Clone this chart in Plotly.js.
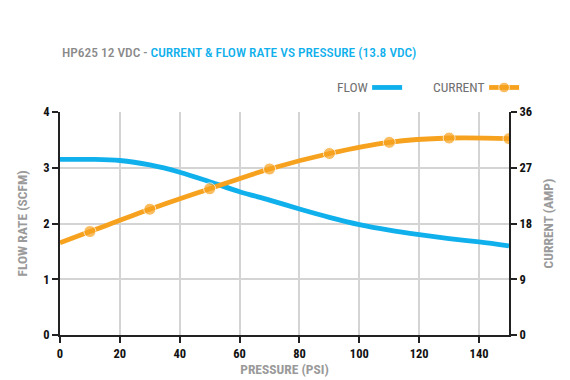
<!DOCTYPE html>
<html><head><meta charset="utf-8">
<script src="https://cdn.plot.ly/plotly-3.0.1.min.js"></script>
<style>html,body{margin:0;padding:0;background:#fff}#chart{width:570px;height:380px}</style>
</head><body><div id="chart"></div>
<script>
const flowPressure = [0,10,20,30,40,50,60,70,80,90,100,110,120,130,140,150];
const flowRate = [3.15,3.15,3.13,3.05,2.92,2.75,2.57,2.42,2.26,2.11,1.98,1.88,1.80,1.73,1.67,1.60];
const currentPressure = [0,10,30,50,70,90,110,130,150];
const currentAmp = [14.9,16.7,20.3,23.6,26.8,29.3,31.1,31.8,31.7];
const xTicks = [0,20,40,60,80,100,120,140];
const yLeftTicks = [0,1,2,3,4];
const yRightTicks = [0,9,18,27,36];

const FONT = '"Roboto Condensed",Roboto,sans-serif';
const BLUE = '#0fb0ec';
const ORANGE = '#f7a21e';
const GRAYT = '#9a9a9a';

const traces = [
  {x: flowPressure, y: flowRate, mode: 'lines', name: '', yaxis: 'y',
   line: {color: BLUE, width: 4.8, shape: 'spline'}, hoverinfo: 'x+y'},
  {x: currentPressure, y: currentAmp, mode: 'lines+markers', name: '', yaxis: 'y2',
   line: {color: ORANGE, width: 4.8, shape: 'spline'},
   marker: {color: ORANGE, size: currentPressure.map((p, i) => i === 0 ? 0 : 12)}, hoverinfo: 'x+y'}
];

const axisCommon = {
  showline: true, linecolor: '#222', linewidth: 2,
  ticks: 'outside', ticklen: 6, tickwidth: 2, tickcolor: '#222',
  tickfont: {family: FONT, size: 12.5, color: '#111', weight: 'bold'},
  zeroline: false, fixedrange: true, automargin: false
};

const layout = {
  width: 570, height: 380,
  margin: {l: 60, r: 61, t: 112, b: 45, autoexpand: false},
  paper_bgcolor: '#fff', plot_bgcolor: '#fff',
  showlegend: true,
  legend: {orientation: 'h', x: 0.684, xanchor: 'left', y: 1.11, yanchor: 'middle',
           entrywidth: 72, entrywidthmode: 'pixels', font: {size: 1}, bgcolor: 'rgba(0,0,0,0)'},
  xaxis: Object.assign({}, axisCommon, {
    range: [0, 150], tickvals: xTicks, showgrid: true, gridcolor: '#d4d4d4', gridwidth: 2,
    title: {text: 'PRESSURE (PSI)', font: {family: FONT, size: 13.5, color: GRAYT, weight: 'bold'}, standoff: 5}
  }),
  yaxis: Object.assign({}, axisCommon, {
    range: [0, 4], tickvals: yLeftTicks, showgrid: true, gridcolor: '#d4d4d4', gridwidth: 2,
    title: {text: 'FLOW RATE (SCFM)', font: {family: FONT, size: 13.5, color: GRAYT, weight: 'bold'}, standoff: 12}
  }),
  yaxis2: Object.assign({}, axisCommon, {
    range: [0, 36], tickvals: yRightTicks, overlaying: 'y', side: 'right', showgrid: false,
    title: {text: 'CURRENT (AMP)', font: {family: FONT, size: 13.5, color: GRAYT, weight: 'bold'}, standoff: 12}
  }),
  annotations: [
    {xref: 'paper', yref: 'paper', x: 0, y: 1.265, xanchor: 'left', yanchor: 'middle', showarrow: false,
     text: '<span style="color:#8a8a8a">HP625 12 VDC - </span><span style="color:' + BLUE + '">CURRENT &amp; FLOW RATE VS PRESSURE (13.8 VDC)</span>',
     font: {family: FONT, size: 13.4, weight: 500}},
    {xref: 'paper', yref: 'paper', x: 0.690, y: 1.11, xanchor: 'right', yanchor: 'middle', showarrow: false,
     text: 'FLOW', font: {family: FONT, size: 13.5, color: '#707070'}},
    {xref: 'paper', yref: 'paper', x: 0.949, y: 1.11, xanchor: 'right', yanchor: 'middle', showarrow: false,
     text: 'CURRENT', font: {family: FONT, size: 13.5, color: '#707070'}}
  ]
};

Plotly.newPlot('chart', traces, layout, {displayModeBar: false, staticPlot: true});
</script></body></html>
